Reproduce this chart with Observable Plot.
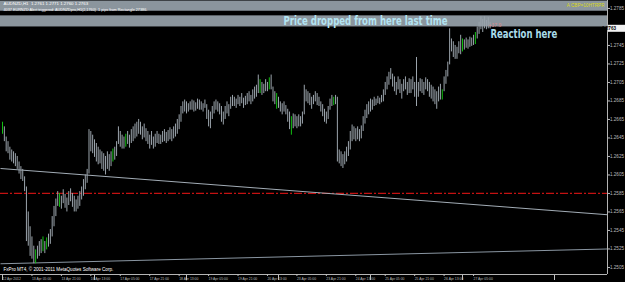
<!DOCTYPE html>
<html><head><meta charset="utf-8">
<script src="https://cdn.jsdelivr.net/npm/d3@7"></script>
<script src="https://cdn.jsdelivr.net/npm/@observablehq/plot@0.6"></script>
<style>
html,body{margin:0;padding:0;background:#000;}
#chart{width:625px;height:282px;overflow:hidden;}
</style></head><body><div id="chart"></div>
<script>
// ---- Data (AUDNZD, H1) ----
const highs = [1.2662,1.2657,1.2646,1.2641,1.2635,1.2632,1.2630,1.2628,1.2625,1.2619,
1.2614,1.2611,1.2603,1.2592,1.2565,1.2549,1.2538,1.2528,1.2524,1.2528,
1.2533,1.2535,1.2538,1.2533,1.2537,1.2541,1.2546,1.2560,1.2571,1.2579,
1.2587,1.2585,1.2582,1.2589,1.2584,1.2580,1.2587,1.2590,1.2585,1.2582,
1.2578,1.2582,1.2587,1.2592,1.2600,1.2605,1.2611,1.2654,1.2652,1.2648,
1.2643,1.2639,1.2635,1.2632,1.2630,1.2628,1.2625,1.2630,1.2627,1.2630,
1.2633,1.2635,1.2641,1.2657,1.2652,1.2648,1.2646,1.2649,1.2652,1.2648,
1.2654,1.2657,1.2660,1.2662,1.2665,1.2662,1.2657,1.2660,1.2655,1.2652,
1.2648,1.2652,1.2646,1.2649,1.2652,1.2649,1.2648,1.2652,1.2654,1.2651,
1.2653,1.2656,1.2654,1.2657,1.2660,1.2665,1.2670,1.2679,1.2684,1.2686,
1.2684,1.2682,1.2684,1.2686,1.2685,1.2683,1.2687,1.2686,1.2684,1.2682,
1.2686,1.2681,1.2675,1.2673,1.2679,1.2684,1.2686,1.2684,1.2682,1.2679,
1.2673,1.2679,1.2684,1.2681,1.2689,1.2691,1.2689,1.2687,1.2691,1.2689,
1.2693,1.2688,1.2690,1.2693,1.2695,1.2691,1.2697,1.2700,1.2702,1.2713,
1.2708,1.2705,1.2703,1.2708,1.2705,1.2710,1.2713,1.2700,1.2695,1.2693,
1.2689,1.2684,1.2682,1.2684,1.2680,1.2676,1.2673,1.2668,1.2671,1.2670,
1.2668,1.2670,1.2668,1.2673,1.2702,1.2697,1.2695,1.2693,1.2689,1.2691,
1.2695,1.2693,1.2689,1.2684,1.2681,1.2676,1.2673,1.2679,1.2687,1.2691,
1.2689,1.2691,1.2689,1.2632,1.2630,1.2627,1.2630,1.2635,1.2641,1.2652,
1.2659,1.2657,1.2655,1.2657,1.2654,1.2658,1.2668,1.2675,1.2681,1.2684,
1.2687,1.2686,1.2689,1.2687,1.2690,1.2688,1.2691,1.2697,1.2705,1.2711,
1.2716,1.2720,1.2714,1.2711,1.2705,1.2711,1.2708,1.2703,1.2708,1.2711,
1.2705,1.2709,1.2708,1.2711,1.2705,1.2732,1.2705,1.2709,1.2708,1.2705,
1.2710,1.2708,1.2705,1.2702,1.2700,1.2697,1.2695,1.2700,1.2703,1.2697,
1.2711,1.2718,1.2727,1.2763,1.2752,1.2749,1.2745,1.2743,1.2749,1.2756,
1.2752,1.2751,1.2753,1.2751,1.2754,1.2753,1.2756,1.2759,1.2765,1.2770,
1.2776,1.2773,1.2776,1.2772,1.2775,1.2770];
const lows = [1.2649,1.2641,1.2630,1.2628,1.2621,1.2619,1.2617,1.2614,1.2611,1.2606,
1.2600,1.2598,1.2587,1.2533,1.2528,1.2517,1.2514,1.2509,1.2509,1.2514,
1.2517,1.2520,1.2522,1.2520,1.2524,1.2527,1.2530,1.2538,1.2549,1.2560,
1.2571,1.2570,1.2568,1.2574,1.2569,1.2565,1.2572,1.2576,1.2570,1.2565,
1.2565,1.2568,1.2571,1.2578,1.2582,1.2589,1.2596,1.2606,1.2630,1.2628,
1.2624,1.2619,1.2616,1.2617,1.2611,1.2609,1.2605,1.2611,1.2609,1.2614,
1.2619,1.2621,1.2625,1.2638,1.2635,1.2633,1.2633,1.2635,1.2638,1.2634,
1.2639,1.2641,1.2644,1.2646,1.2649,1.2648,1.2643,1.2645,1.2641,1.2638,
1.2633,1.2637,1.2633,1.2635,1.2639,1.2638,1.2638,1.2640,1.2641,1.2639,
1.2641,1.2643,1.2641,1.2644,1.2646,1.2649,1.2654,1.2662,1.2671,1.2673,
1.2671,1.2673,1.2675,1.2675,1.2673,1.2674,1.2676,1.2675,1.2675,1.2673,
1.2677,1.2665,1.2657,1.2655,1.2665,1.2671,1.2675,1.2673,1.2670,1.2662,
1.2659,1.2665,1.2671,1.2668,1.2676,1.2679,1.2679,1.2677,1.2681,1.2679,
1.2682,1.2677,1.2680,1.2681,1.2684,1.2681,1.2684,1.2687,1.2689,1.2693,
1.2693,1.2691,1.2693,1.2695,1.2695,1.2697,1.2697,1.2684,1.2681,1.2676,
1.2677,1.2673,1.2670,1.2673,1.2670,1.2662,1.2654,1.2648,1.2655,1.2657,
1.2655,1.2657,1.2657,1.2660,1.2670,1.2684,1.2682,1.2680,1.2676,1.2681,
1.2684,1.2680,1.2679,1.2673,1.2668,1.2662,1.2660,1.2665,1.2675,1.2679,
1.2680,1.2681,1.2619,1.2617,1.2614,1.2612,1.2616,1.2619,1.2625,1.2632,
1.2641,1.2643,1.2641,1.2643,1.2641,1.2644,1.2652,1.2660,1.2666,1.2670,
1.2673,1.2675,1.2679,1.2680,1.2682,1.2681,1.2683,1.2684,1.2691,1.2697,
1.2702,1.2708,1.2700,1.2695,1.2691,1.2697,1.2693,1.2687,1.2695,1.2697,
1.2691,1.2693,1.2693,1.2697,1.2689,1.2679,1.2689,1.2695,1.2693,1.2691,
1.2697,1.2695,1.2689,1.2687,1.2684,1.2681,1.2676,1.2684,1.2686,1.2686,
1.2695,1.2703,1.2711,1.2724,1.2738,1.2732,1.2730,1.2730,1.2736,1.2735,
1.2738,1.2740,1.2742,1.2741,1.2743,1.2744,1.2745,1.2746,1.2752,1.2757,
1.2762,1.2759,1.2763,1.2762,1.2763,1.2763];
const greenBars = [0,18,22,24,31,60,67,140,145,149,157,180,239,250,257];

const xTickIdx = [0,16,32,48,64,80,96,112,128,144,160,176,192,208,224,240,256];
const xTickLabels = ["12 Apr 2012","13 Apr 05:00","13 Apr 21:00","16 Apr 13:00","17 Apr 05:00",
  "17 Apr 21:00","18 Apr 13:00","19 Apr 05:00","19 Apr 21:00","20 Apr 13:00","23 Apr 05:00",
  "23 Apr 21:00","24 Apr 13:00","25 Apr 05:00","25 Apr 21:00","26 Apr 13:00","27 Apr 05:00"];
const yTicks = [1.2505,1.2525,1.2545,1.2565,1.2585,1.2605,1.2625,1.2645,1.2665,1.2685,1.2705,1.2725,1.2745,1.2765,1.2785];

const xDomain = [-1.09, 328.8];
const yDomain = [1.24974, 1.27936];
const lastClose = 1.2763;
const supportLevel = 1.2585;
const trendUpper = [1.2612, 1.2562];   // price at left edge, right edge
const trendLower = [1.2509, 1.2525];
const zones = [[1.2782, 1.2793], [1.2765, 1.2777]];
const notes = [
  {text: "Price dropped from here last time", i: 152.7, p: 1.2771, len: 164, color: "#b3e4f2"},
  {text: "Reaction here", i: 265.2, p: 1.2757, len: 67, color: "#a9dbea"}
];
const smallNote = {text: "+17.9", i: 264.1, p: 1.2767};
const headerLine1 = "AUDNZD,H1  1.2761 1.2771 1.2760 1.2763";
const headerLine2 = "4037 EURNZD Alert triggered: AUDNZDpro,H1(2,1760)  1 pips from Rectangle 27386.";
const zoneLabel = "A CBP=10HTRPR";
const footer = "FxPro MT4, \u00a9 2001-2011 MetaQuotes Software Corp.";

// ---- text sizing via canvas metrics ----
const font = "'Liberation Sans', Arial, sans-serif";
const noteFont = "'DejaVu Sans Condensed','Liberation Sans Narrow','DejaVu Sans',sans-serif";
const ctx = document.createElement("canvas").getContext("2d");
function measure(text, size, family, weight) {
  ctx.font = `${weight || "normal"} ${size}px ${family}`;
  return ctx.measureText(text).width;
}
function sizeFor(text, target, family, weight) {
  return 100 * target / measure(text, 100, family, weight);
}
const fsX = sizeFor("13 Apr 05:00", 19.5, font);
const fsY = sizeFor("1.2785", 14, font);
const fsH1 = sizeFor(headerLine1, 85, font);
const fsH2 = sizeFor(headerLine2, 145, font);
const fsFoot = sizeFor(footer, 110, font);
const fsZone = sizeFor(zoneLabel, 38, font);
const fsSmall = sizeFor(smallNote.text, 13, font);
const fsBox = sizeFor("1.2763", 14, font, "bold");
const fmt4 = d3.format(".4f");

// ---- build ----
const bars = highs.map((h, i) => ({i, high: h, low: lows[i], green: greenBars.includes(i)}));
const zoneData = zones.map(([a, b]) => ({x1: xDomain[0], x2: xDomain[1], y1: a, y2: b}));
const trendData = [
  {x1: xDomain[0], y1: trendUpper[0], x2: xDomain[1], y2: trendUpper[1], c: "#a3adb6"},
  {x1: xDomain[0], y1: trendLower[0], x2: xDomain[1], y2: trendLower[1], c: "#8a96a2"}
];

const plot = Plot.plot({
  width: 625, height: 282,
  marginTop: 0, marginLeft: 0, marginRight: 18, marginBottom: 8,
  style: {background: "#000", fontFamily: font, color: "#c0c0c0"},
  x: {domain: xDomain},
  y: {domain: yDomain},
  marks: [
    Plot.rect(zoneData, {x1: "x1", x2: "x2", y1: "y1", y2: "y2", fill: "#8b959d"}),
    Plot.ruleY([supportLevel], {stroke: "#c41212", strokeWidth: 1.2, strokeDasharray: "8,2,2,2"}),
    Plot.link(trendData, {x1: "x1", y1: "y1", x2: "x2", y2: "y2", stroke: "c", strokeWidth: 1}),
    Plot.ruleX(bars.filter(d => !d.green), {x: "i", y1: "low", y2: "high", stroke: "#9ba4ac", strokeWidth: 1}),
    Plot.ruleX(bars.filter(d => d.green), {x: "i", y1: "low", y2: "high", stroke: "#12c012", strokeWidth: 1}),
    Plot.ruleX([xDomain[1]], {stroke: "#b4b4b4"}),
    Plot.ruleY([yDomain[0]], {stroke: "#b4b4b4"}),
    Plot.axisY(yTicks, {anchor: "right", tickSize: 2, tickPadding: 0.5, fontSize: fsY, color: "#bcbcbc",
      tickFormat: d => Math.abs(d - lastClose) < 0.0008 ? "" : fmt4(d), ariaLabel: "yax"}),
    Plot.axisX(xTickIdx, {anchor: "bottom", tickSize: 2, tickPadding: 1.5, fontSize: fsX, color: "#bcbcbc",
      textAnchor: "start", tickFormat: d => xTickLabels[xTickIdx.indexOf(d)], ariaLabel: "xax"}),
    Plot.text(notes, {x: "i", y: "p", text: "text", textAnchor: "start", fill: "color",
      fontSize: 12, fontWeight: "bold", fontFamily: noteFont, lineAnchor: "middle", ariaLabel: "notes"}),
    Plot.text([smallNote], {x: "i", y: "p", text: "text", textAnchor: "start", fill: "#d88a8a", fontSize: fsSmall, ariaLabel: "smallnote"}),
    Plot.text([zoneLabel], {frameAnchor: "top-right", dx: -3, dy: 3.5, fill: "#d8d820", fontSize: fsZone, textAnchor: "end", ariaLabel: "zonelabel"}),
    Plot.text([headerLine1], {frameAnchor: "top-left", dx: 3, dy: 1.5, fill: "#ffffff", fontSize: fsH1, textAnchor: "start", lineAnchor: "top", ariaLabel: "h1"}),
    Plot.text([headerLine2], {frameAnchor: "top-left", dx: 3, dy: 7.5, fill: "#ffffff", fontSize: fsH2, textAnchor: "start", lineAnchor: "top", ariaLabel: "h2"}),
    Plot.text([footer], {frameAnchor: "bottom-left", dx: 3, dy: -4, fill: "#ffffff", fontSize: fsFoot, textAnchor: "start", ariaLabel: "footer"})
  ]
});
document.getElementById("chart").appendChild(plot);

// ---- condense the two annotation texts horizontally with a single matrix ----
plot.querySelectorAll("text").forEach(el => {
  const n = notes.find(d => d.text === el.textContent);
  if (!n) return;
  const s = n.len / measure(n.text, 12, noteFont, "bold");
  const t = el.getAttribute("transform") || "";
  const m = t.match(/translate\(\s*([-\d.e]+)[ ,]+([-\d.e]+)\s*\)/);
  if (m) {
    el.setAttribute("transform", `matrix(${s},0,0,1,${m[1]},${m[2]})`);
  } else {
    const x = parseFloat(el.getAttribute("x")) || 0;
    el.setAttribute("transform", `matrix(${s},0,0,1,${x - s * x},0)`);
  }
});

// dark background behind header line 1
const h1g = plot.querySelector("g[aria-label='h1']");
if (h1g) {
  d3.select(h1g).insert("rect", "text")
    .attr("x", -1).attr("y", -0.5).attr("width", measure(headerLine1, fsH1, font) + 2).attr("height", fsH1 + 0.5)
    .attr("fill", "#22262b");
}
// current price box on the price axis
const yS = plot.scale("y"), xS = plot.scale("x");
const yc = yS.apply(lastClose), xr = xS.apply(xDomain[1]);
const box = d3.select(plot).append("g").attr("aria-label", "price-box");
box.append("rect").attr("x", xr + 1).attr("y", yc - 3.5).attr("width", 17).attr("height", 7).attr("fill", "#f2f2f2");
box.append("text").attr("x", xr + 2).attr("y", yc).attr("dy", "0.35em")
  .attr("font-size", fsBox).attr("font-weight", "bold")
  .attr("fill", "#000").attr("font-family", font)
  .text(fmt4(lastClose));
</script>
</body></html>
